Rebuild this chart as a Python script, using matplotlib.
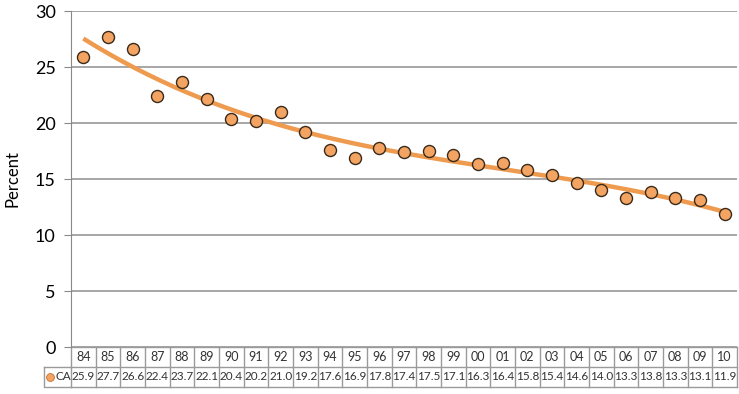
import numpy as np
import matplotlib
matplotlib.use('Agg')
import matplotlib.pyplot as plt
import matplotlib.transforms as mtransforms

years = ['84', '85', '86', '87', '88', '89', '90', '91', '92', '93', '94', '95', '96',
         '97', '98', '99', '00', '01', '02', '03', '04', '05', '06', '07', '08', '09', '10']
ca = [25.9, 27.7, 26.6, 22.4, 23.7, 22.1, 20.4, 20.2, 21.0, 19.2, 17.6, 16.9, 17.8,
      17.4, 17.5, 17.1, 16.3, 16.4, 15.8, 15.4, 14.6, 14.0, 13.3, 13.8, 13.3, 13.1, 11.9]
series_name = 'CA'

plt.rcParams['font.family'] = ['Lato', 'DejaVu Sans']

fill = '#F3A462'
edge = '#3a2a1a'
trend_col = '#EE9A4F'
grid_col = '#A6A6A6'
tab_col = '#9a9a9a'

fig = plt.figure(figsize=(7.39, 3.94), dpi=100)
ax = fig.add_axes([71/739, 1 - 347/394, 666/739, 336/394])

x = np.arange(len(ca))
# trendline (polynomial fit like the spreadsheet)
coef = np.polyfit(x, ca, 3)
xs = np.linspace(0, len(ca) - 1, 200)
ax.plot(xs, np.polyval(coef, xs), color=trend_col, lw=3.2, zorder=2, solid_capstyle='butt')
ax.scatter(x, ca, s=75, facecolor=fill, edgecolor=edge, linewidth=1.0, zorder=3)

ax.set_xlim(-0.5, len(ca) - 0.5)
ax.set_ylim(0, 30)
ax.set_yticks(range(0, 31, 5))
ax.set_xticks([])
ax.yaxis.grid(True, color=grid_col, lw=1.4)
ax.set_axisbelow(True)
for s in ['top', 'right', 'bottom']:
    ax.spines[s].set_visible(False)
ax.spines['left'].set_color('#888888')
ax.tick_params(axis='y', length=5, color='#888888', labelsize=13, pad=6)
ax.set_ylabel('Percent', fontsize=12, labelpad=10)

# data table below the plot
tr = mtransforms.blended_transform_factory(ax.transData, ax.transAxes)
rh = 20 / 336
n = len(ca)
for i in range(n + 1):
    ax.plot([i - 0.5, i - 0.5], [0, -2 * rh], transform=tr, color=tab_col, lw=1, clip_on=False)
for yy in [0, -rh, -2 * rh]:
    ax.plot([-0.5, n - 0.5], [yy, yy], transform=tr, color=tab_col, lw=1, clip_on=False)
for i in range(n):
    ax.text(i, -0.5 * rh, years[i], transform=tr, ha='center', va='center', fontsize=9, color='#333333')
    ax.text(i, -1.5 * rh, '%.1f' % ca[i], transform=tr, ha='center', va='center', fontsize=8.5, color='#333333')

# legend cell
axl = ax.transAxes
lx0 = -27 / 666
ax.plot([lx0, lx0, 0], [-rh, -2 * rh, -2 * rh], transform=axl, color=tab_col, lw=1, clip_on=False)
ax.plot([lx0, 0], [-rh, -rh], transform=axl, color=tab_col, lw=1, clip_on=False)
ax.scatter([lx0 + 6 / 666], [-1.5 * rh], transform=axl, s=32, facecolor=fill, edgecolor='#c07030',
           linewidth=0.6, clip_on=False, zorder=4)
ax.text(lx0 + 11 / 666, -1.5 * rh, series_name, transform=axl, ha='left', va='center', fontsize=8.5, color='#333333')

fig.savefig('out.png', dpi=100)
